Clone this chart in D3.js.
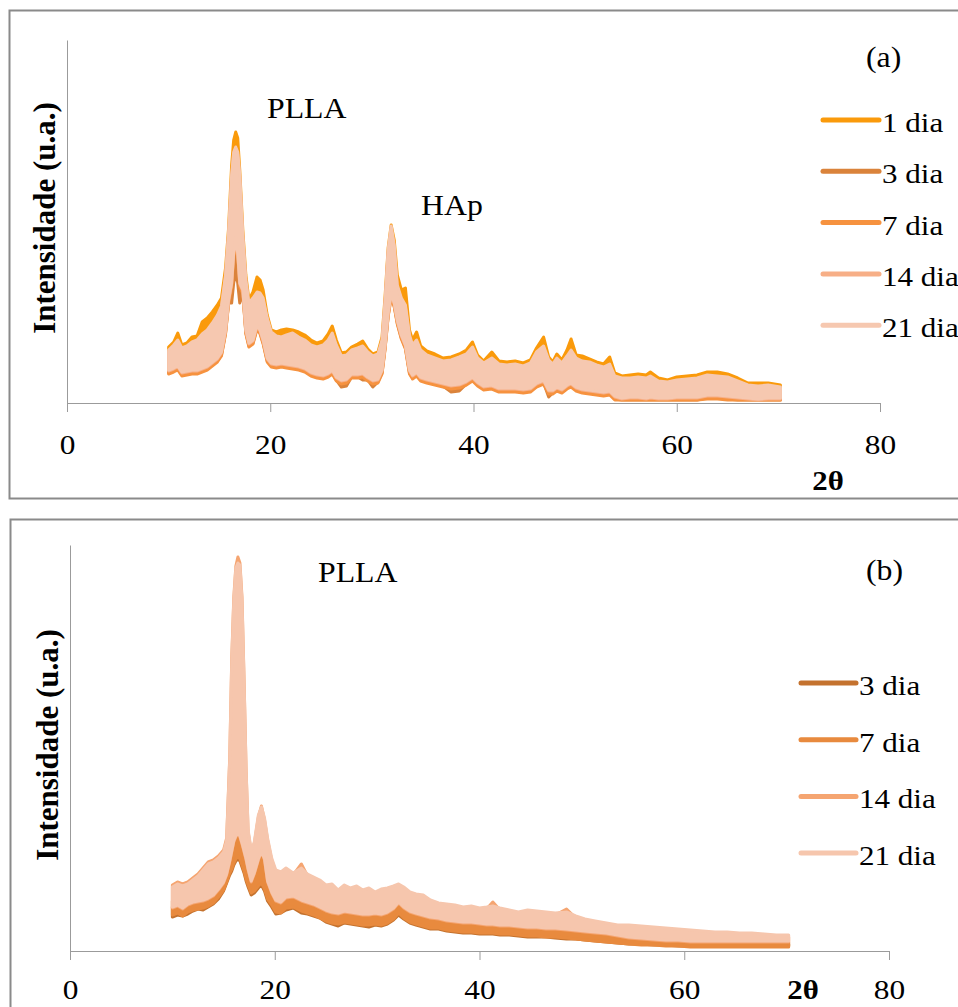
<!DOCTYPE html>
<html>
<head>
<meta charset="utf-8">
<script src="https://cdn.jsdelivr.net/npm/d3@7"></script>
<style>
  body { margin: 0; background: #fff; }
  svg { display: block; }
  text { font-family: "Liberation Serif", "Times New Roman", serif; fill: #000; }
</style>
</head>
<body>
<div id="chart"></div>
<script>
// ---------- data (2θ, intensity in a.u.) ----------
// each series is drawn as a noisy band: hi = top of the noise, lo = bottom of the noise

const xTicks = [0, 20, 40, 60, 80];

// panel (a)
const namesA = ["1 dia", "3 dia", "7 dia", "14 dia", "21 dia"];
const twoThetaA = [10.0,10.5,10.9,11.3,11.8,12.3,12.8,13.3,13.8,14.3,
  14.8,15.2,15.6,15.9,16.2,16.4,16.6,16.8,17.0,17.3,
  17.6,17.9,18.3,18.7,19.0,19.3,19.7,20.1,20.6,21.1,
  21.6,22.2,22.8,23.4,24.0,24.6,25.2,25.7,26.1,26.5,
  27.0,27.5,28.0,28.6,29.1,29.6,30.1,30.6,31.0,31.3,
  31.6,31.9,32.2,32.5,32.9,33.3,33.7,34.0,34.4,34.8,
  35.4,36.2,37.0,37.8,38.6,39.3,39.9,40.4,41.0,41.8,
  42.5,43.3,44.1,44.9,45.6,46.2,46.9,47.4,47.8,48.2,
  48.7,49.2,49.6,50.1,50.7,51.4,52.1,52.8,53.4,53.9,
  54.6,55.4,56.2,57.0,57.4,58.2,59.1,60.0,61.0,62.0,
  63.0,64.0,65.0,66.0,67.0,68.0,69.0,70.2];

const a1Hi = [56,61,70,58,60,66,67,81,85,91,
  98,105,135,175,238,263,271,265,233,173,
  128,103,111,126,123,113,88,73,71,73,
  74,73,71,68,63,60,62,69,77,63,
  50,51,56,59,62,54,49,51,66,107,
  155,178,163,128,113,115,73,63,71,57,
  52,49,45,46,49,53,61,48,42,51,
  42,41,42,40,43,55,66,46,41,49,
  43,53,64,48,47,44,41,39,46,30,
  27,28,29,28,31,25,23,26,27,28,
  31,31,29,25,20,20,20,18];
const a1Lo = [35,37,39,33,34,35,35,37,39,43,
  47,53,75,105,122,152,167,152,122,115,
  75,62,65,80,75,65,47,42,41,42,
  41,40,39,37,33,31,30,32,35,28,
  25,26,31,31,32,28,25,26,35,60,
  92,112,102,85,70,60,35,30,33,28,
  26,24,22,20,21,24,28,23,19,20,
  17,17,17,16,17,22,25,15,15,18,
  16,20,22,18,16,15,14,13,14,9,
  7,8,8,7,8,7,7,8,8,8,
  10,10,9,8,7,6,7,7];

const a3Hi = [46,51,56,48,50,54,56,62,66,73,
  81,90,121,150,170,190,200,190,165,150,
  116,93,98,104,103,98,78,64,60,59,
  61,63,59,56,51,49,51,56,63,51,
  40,41,46,48,50,44,40,42,56,96,
  146,170,151,111,98,91,61,51,56,46,
  41,38,35,36,39,42,49,38,33,38,
  32,31,32,30,33,44,50,36,32,38,
  33,40,46,38,35,34,31,29,32,20,
  18,18,19,18,20,15,14,16,17,18,
  21,20,19,15,11,10,11,9];
const a3Lo = [30,32,34,28,29,30,30,32,34,38,
  42,48,70,100,100,120,130,120,100,110,
  70,57,60,75,70,60,42,37,36,37,
  36,35,34,32,28,26,25,27,30,23,
  16,17,26,26,23,23,16,21,30,55,
  87,107,97,80,65,55,30,25,28,23,
  21,19,17,11,12,19,23,18,14,15,
  12,12,12,11,12,17,20,6,10,13,
  11,15,17,13,11,10,9,8,9,4,
  3,3,3,3,3,3,3,3,3,3,
  5,5,4,3,3,3,3,3];

const a7Hi = [49,54,59,51,53,57,59,65,69,76,
  84,93,124,167,200,225,235,225,200,164,
  119,96,101,107,106,101,81,67,63,62,
  64,66,62,59,54,52,54,59,66,54,
  43,44,49,51,53,47,43,45,59,99,
  149,173,154,114,101,94,64,54,59,49,
  44,41,38,39,42,45,52,41,36,41,
  35,34,35,33,36,47,53,39,35,41,
  36,43,49,41,38,37,34,32,35,23,
  21,21,22,21,23,18,17,19,20,21,
  24,23,22,18,14,13,14,12];
const a7Lo = [29,31,33,27,28,29,29,31,33,37,
  41,47,69,99,116,146,161,146,116,109,
  69,56,59,74,69,59,41,36,35,36,
  35,34,33,31,27,25,24,26,29,22,
  19,20,25,25,26,22,19,20,29,54,
  86,106,96,79,64,54,29,24,27,22,
  20,18,16,14,15,18,22,17,13,14,
  11,11,11,10,11,16,19,9,9,12,
  10,14,16,12,10,9,8,7,8,3,
  3,3,3,3,3,3,3,3,3,3,
  4,4,3,3,3,3,3,3];

const a14Hi = [51,56,61,53,55,59,61,67,71,78,
  86,95,126,169,226,249,254,249,226,166,
  121,98,103,109,108,103,83,69,65,64,
  66,68,64,61,56,54,56,61,68,56,
  45,46,51,53,55,49,45,47,61,101,
  151,175,156,116,103,96,66,56,61,51,
  46,43,40,41,44,47,54,43,38,43,
  37,36,37,35,38,49,55,41,37,43,
  38,45,51,43,40,39,36,34,37,25,
  23,23,24,23,25,20,19,21,22,23,
  26,25,24,20,16,15,16,14];
const a14Lo = [32,34,36,30,31,32,32,34,36,40,
  44,50,72,102,119,149,164,149,119,112,
  72,59,62,77,72,62,44,39,38,39,
  38,37,36,34,30,28,27,29,32,25,
  22,23,28,28,29,25,22,23,32,57,
  89,109,99,82,67,57,32,27,30,25,
  23,21,19,17,18,21,25,20,16,17,
  14,14,14,13,14,19,22,12,12,15,
  13,17,19,15,13,12,11,10,11,6,
  4,5,5,4,5,4,4,5,5,5,
  7,7,6,5,4,3,4,4];

const a21Hi = [53,58,63,55,57,61,63,69,73,80,
  88,97,128,171,228,251,256,251,228,168,
  123,100,105,111,110,105,85,71,67,66,
  68,70,66,63,58,56,58,63,70,58,
  47,48,53,55,57,51,47,49,63,103,
  153,177,158,118,105,98,68,58,63,53,
  48,45,42,43,46,49,56,45,40,45,
  39,38,39,37,40,51,57,43,39,45,
  40,47,53,45,42,41,38,36,39,27,
  25,25,26,25,27,22,21,23,24,25,
  28,27,26,22,18,17,18,16];
const a21Lo = [33,35,37,31,32,33,33,35,37,41,
  45,51,73,103,120,150,165,150,120,113,
  73,60,63,78,73,63,45,40,39,40,
  39,38,37,35,31,29,28,30,33,26,
  23,24,29,29,30,26,23,24,33,58,
  90,110,100,83,68,58,33,28,31,26,
  24,22,20,18,19,22,26,21,17,18,
  15,15,15,14,15,20,23,13,13,16,
  14,18,20,16,14,13,12,11,12,7,
  5,6,6,5,6,5,5,6,6,6,
  8,8,7,6,5,4,5,5];

// panel (b)
const namesB = ["3 dia", "7 dia", "14 dia", "21 dia"];
const twoThetaB = [10.0,10.5,11.0,11.5,12.0,12.5,13.0,13.5,14.0,14.5,
  15.0,15.3,15.6,15.8,16.0,16.2,16.4,16.6,16.8,17.0,
  17.2,17.4,17.7,18.0,18.4,18.7,19.0,19.3,19.7,20.1,
  20.6,21.1,21.8,22.6,23.2,23.8,24.4,25.0,25.6,26.2,
  26.8,27.4,28.0,28.6,29.2,29.8,30.4,31.0,31.6,32.1,
  32.6,33.2,33.8,34.5,35.2,36.0,36.8,37.6,38.4,39.2,
  40.0,40.7,41.3,42.0,42.9,43.8,44.7,45.6,46.5,47.4,
  48.5,49.4,50.3,51.3,52.4,53.5,54.6,55.8,57.0,58.2,
  59.4,60.6,61.8,63.0,64.2,65.4,66.6,67.8,69.0,70.2];

const b3Hi = [44,47,45,47,51,55,61,67,69,73,
  79,89,140,205,245,268,274,255,205,150,
  105,80,70,76,84,90,82,66,58,56,
  56,60,58,56,52,50,47,44,44,40,
  43,41,42,39,41,39,41,42,46,50,
  46,41,38,36,32,30,28,27,25,26,
  24,25,25,24,22,21,22,21,20,19,
  19,17,15,14,12,11,10,9,8,8,
  7,7,7,7,7,7,7,7,7,7];
const b3Lo = [34,36,35,37,40,42,41,44,47,52,
  60,68,76,80,86,90,92,90,84,78,
  70,64,56,58,63,66,60,50,44,37,
  38,41,43,38,37,35,33,29,27,25,
  28,27,26,25,24,26,25,27,31,36,
  32,28,26,24,22,22,20,19,18,18,
  17,17,17,16,16,15,14,14,14,13,
  12,12,11,10,9,8,7,7,6,6,
  5,5,5,5,5,5,5,5,5,5];

const b7Hi = [50,53,51,53,57,61,67,73,75,79,
  85,95,150,220,262,286,292,272,222,162,
  112,86,76,82,90,96,88,72,64,62,
  62,66,64,62,58,56,53,50,50,46,
  49,47,48,45,47,45,47,48,52,56,
  52,47,44,42,38,36,34,33,31,32,
  30,31,31,30,28,27,28,27,26,25,
  25,23,21,20,18,17,16,15,14,14,
  13,12,12,11,11,10,10,10,9,9];
const b7Lo = [36,38,35,39,41,42,43,45,48,54,
  61,69,78,82,88,92,95,92,86,80,
  72,66,58,60,65,68,62,52,46,39,
  38,43,44,40,38,36,33,30,28,27,
  29,28,27,26,26,27,26,28,32,38,
  33,29,27,25,23,23,21,20,19,19,
  18,18,18,17,17,16,15,15,14,14,
  13,12,11,10,9,8,7,6,6,5,
  5,4,4,4,4,4,4,4,4,4];

const b14Hi = [66,69,67,69,73,77,83,89,91,95,
  101,113,193,293,354,385,394,388,354,273,
  182,119,99,107,134,145,131,111,91,79,
  77,81,76,87,75,72,69,64,65,59,
  64,61,63,59,61,57,60,61,63,65,
  62,57,55,54,49,46,45,44,42,43,
  41,42,49,41,39,37,39,38,37,36,
  42,33,30,28,26,24,24,23,22,21,
  20,19,18,17,17,16,16,15,14,14];
const b14Lo = [43,45,42,46,48,49,50,52,55,61,
  68,76,89,99,109,114,117,114,107,99,
  91,81,69,77,91,99,91,69,58,50,
  48,53,54,50,48,46,43,40,38,37,
  39,38,37,36,36,37,36,38,42,48,
  43,39,37,35,33,32,30,29,28,28,
  27,26,26,25,25,24,23,23,22,22,
  21,20,19,18,17,15,13,12,11,10,
  10,9,9,9,9,9,9,9,9,9];

const b21Hi = [64,67,65,67,71,75,81,87,89,93,
  99,111,191,291,351,383,388,386,351,271,
  181,121,101,109,136,144,133,113,93,81,
  79,83,78,83,77,74,71,66,67,61,
  66,63,65,61,63,59,62,63,65,67,
  64,59,57,56,51,48,47,46,44,45,
  43,44,45,43,41,39,41,40,39,38,
  39,35,32,30,28,26,26,25,24,23,
  22,21,20,19,19,18,18,17,16,16];
const b21Lo = [44,46,43,47,49,50,51,53,56,62,
  69,77,90,100,110,115,118,115,108,100,
  92,82,70,78,92,100,92,70,59,51,
  49,54,55,51,49,47,44,41,39,38,
  40,39,38,37,37,38,37,39,43,49,
  44,40,38,36,34,33,31,30,29,29,
  28,27,27,26,26,25,24,24,23,23,
  22,21,20,19,18,16,14,13,12,11,
  11,10,10,10,10,10,10,10,10,10];

// ---------- layout ----------
const width = 958;
const height = 1007;
const axisGray = "#9b9b9b";
const frameGray = "#8a8a8a";

const panels = [
  {
    frame: { x: 9.5, y: 10.5, w: 980, h: 488 },
    xRange: [67, 880], yRange: [403, 40], yMax: 363,
    tickBaseline: 454, thetaPos: [828, 490],
    yLabelPos: [55, 218],
    twoTheta: twoThetaA,
    series: [
      { name: namesA[0], hi: a1Hi, lo: a1Lo, color: "#FA9A0B" },
      { name: namesA[1], hi: a3Hi, lo: a3Lo, color: "#DA833B" },
      { name: namesA[2], hi: a7Hi, lo: a7Lo, color: "#F6923F" },
      { name: namesA[3], hi: a14Hi, lo: a14Lo, color: "#F7AF87" },
      { name: namesA[4], hi: a21Hi, lo: a21Lo, color: "#F6C8B0" }
    ],
    legend: { x1: 823, x2: 879, textX: 882, y0: 120, gap: 51.3 },
    notes: [
      { text: "PLLA", x: 267, y: 118 },
      { text: "HAp", x: 421, y: 215 },
      { text: "(a)", x: 866, y: 67 }
    ]
  },
  {
    frame: { x: 10.5, y: 519.5, w: 980, h: 520 },
    xRange: [70, 889], yRange: [951, 545], yMax: 406,
    tickBaseline: 999, thetaPos: [803, 999],
    yLabelPos: [58, 745],
    twoTheta: twoThetaB,
    series: [
      { name: namesB[0], hi: b3Hi, lo: b3Lo, color: "#C4722E" },
      { name: namesB[1], hi: b7Hi, lo: b7Lo, color: "#E88A3E" },
      { name: namesB[2], hi: b14Hi, lo: b14Lo, color: "#F5A571" },
      { name: namesB[3], hi: b21Hi, lo: b21Lo, color: "#F6C6AD" }
    ],
    legend: { x1: 801, x2: 856, textX: 859, y0: 683, gap: 56.7 },
    notes: [
      { text: "PLLA", x: 318, y: 582 },
      { text: "(b)", x: 866, y: 580 }
    ]
  }
];

const svg = d3.select("#chart")
  .append("svg")
  .attr("width", width)
  .attr("height", height)
  .attr("font-family", "'Liberation Serif', 'Times New Roman', serif");

// text in the picture is a bit wider than plain Times, so stretch it sideways
function addText(g, str, x, y, size, sx, opts = {}) {
  return g.append("text")
    .attr("transform", `translate(${x},${y}) scale(${sx},1)`)
    .attr("font-size", size)
    .attr("font-weight", opts.bold ? "bold" : null)
    .attr("text-anchor", opts.anchor || "start")
    .text(str);
}

function drawPanel(p) {
  const g = svg.append("g");

  // outer frame
  g.append("rect")
    .attr("x", p.frame.x).attr("y", p.frame.y)
    .attr("width", p.frame.w).attr("height", p.frame.h)
    .attr("fill", "none")
    .attr("stroke", frameGray)
    .attr("stroke-width", 2);

  const xScale = d3.scaleLinear().domain([0, 80]).range(p.xRange);
  const yScale = d3.scaleLinear().domain([0, p.yMax]).range(p.yRange);

  // the noisy bands, first series at the bottom
  const area = d3.area()
    .x(d => xScale(d.t))
    .y0(d => yScale(d.lo))
    .y1(d => yScale(d.hi));

  p.series.forEach(s => {
    const pts = p.twoTheta.map((t, i) => ({ t: t, hi: s.hi[i], lo: s.lo[i] }));
    g.append("path")
      .datum(pts)
      .attr("d", area)
      .attr("fill", s.color)
      .attr("stroke", s.color)
      .attr("stroke-width", 3)
      .attr("stroke-linejoin", "round");
  });

  // axes
  const xAxis = g.append("g")
    .attr("transform", `translate(0,${p.yRange[0]})`)
    .call(d3.axisBottom(xScale).tickValues(xTicks).tickSize(9).tickSizeOuter(0).tickFormat(d3.format("d")));
  xAxis.attr("font-family", null).attr("font-size", 28);
  xAxis.select(".domain").attr("stroke", axisGray);
  xAxis.selectAll(".tick line").attr("stroke", axisGray);
  xAxis.selectAll(".tick text")
    .attr("y", p.tickBaseline - p.yRange[0])
    .attr("dy", null)
    .attr("transform", "scale(1.12,1)")
    .attr("fill", "#000");

  const yAxis = g.append("g")
    .attr("transform", `translate(${p.xRange[0]},0)`)
    .call(d3.axisLeft(yScale).tickValues([]).tickSizeOuter(0));
  yAxis.select(".domain").attr("stroke", axisGray);

  // axis titles
  addText(g, "2θ", p.thetaPos[0], p.thetaPos[1], 28, 1.1, { bold: true, anchor: "middle" });
  g.append("text")
    .attr("transform", `translate(${p.yLabelPos[0]},${p.yLabelPos[1]}) rotate(-90)`)
    .attr("font-size", 31)
    .attr("font-weight", "bold")
    .attr("text-anchor", "middle")
    .text("Intensidade (u.a.)");

  // peak labels and panel letter
  p.notes.forEach(n => addText(g, n.text, n.x, n.y, 30, 1.06));

  // legend
  p.series.forEach((s, i) => {
    const ly = p.legend.y0 + i * p.legend.gap;
    g.append("line")
      .attr("x1", p.legend.x1).attr("x2", p.legend.x2)
      .attr("y1", ly).attr("y2", ly)
      .attr("stroke", s.color)
      .attr("stroke-width", 5)
      .attr("stroke-linecap", "round");
    addText(g, s.name, p.legend.textX, ly + 12, 27, 1.15);
  });
}

panels.forEach(drawPanel);
</script>
</body>
</html>
